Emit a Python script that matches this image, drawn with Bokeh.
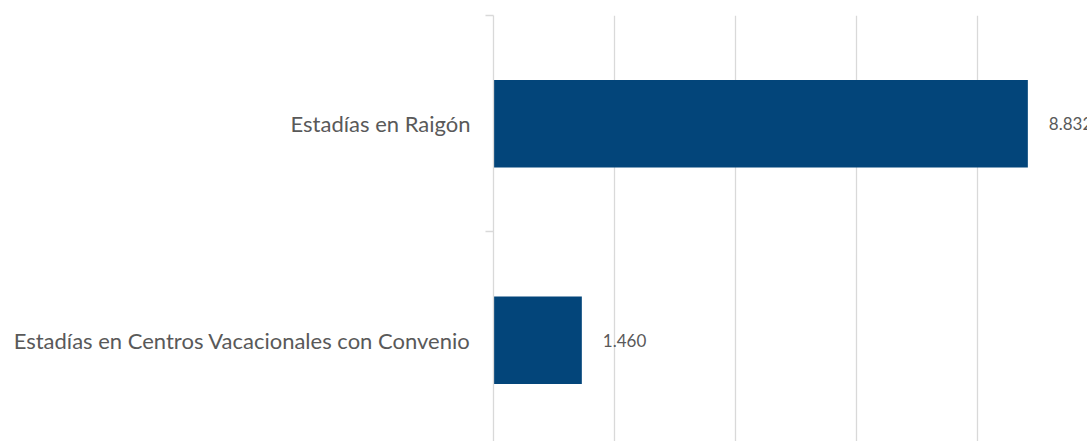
from bokeh.plotting import figure
from bokeh.models import ColumnDataSource, FixedTicker, Range1d
from bokeh.core.properties import value
from bokeh.embed import file_html
from bokeh.resources import INLINE

# Data
categories = ["Estadías en Centros Vacacionales con Convenio", "Estadías en Raigón"]
values = [1460, 8832]
grid_ticks = [0, 2000, 4000, 6000, 8000, 10000]

FONT = "Lato"
BAR_COLOR = "#03457A"
TEXT_COLOR = "#595959"
GRID_COLOR = "#D9D9D9"

ypos = [i + 0.5 for i in range(len(categories))]
labels = [f"{v:,}".replace(",", ".") for v in values]
src = ColumnDataSource(dict(y=ypos, v=values, lab=labels))

p = figure(width=1087, height=441, output_backend="svg", toolbar_location=None,
           x_range=Range1d(0, 9818), y_range=Range1d(0.0323, 2.0),
           x_axis_location=None, min_border_left=493, min_border_right=0,
           min_border_top=15, min_border_bottom=0)
p.outline_line_color = None
p.background_fill_color = "white"
p.border_fill_color = "white"

p.hbar(y="y", right="v", left=0, height=0.405, source=src,
       fill_color=BAR_COLOR, line_color=None)

p.text(x="v", y="y", text="lab", source=src, x_offset=21,
       text_align="left", text_baseline="middle",
       text_font=value(FONT), text_font_size="17px", text_color=TEXT_COLOR)

# grid
p.xgrid.ticker = FixedTicker(ticks=grid_ticks)
p.xgrid.grid_line_color = GRID_COLOR
p.xgrid.grid_line_width = 1.3
p.ygrid.visible = False

# y axis
ya = p.yaxis[0]
ya.ticker = FixedTicker(ticks=ypos, minor_ticks=[0, 1, 2])
ya.major_label_overrides = {y: c for y, c in zip(ypos, categories)}
ya.axis_line_color = GRID_COLOR
ya.axis_line_width = 1.3
ya.major_tick_line_color = None
ya.major_tick_out = 0
ya.major_tick_in = 0
ya.minor_tick_line_color = GRID_COLOR
ya.minor_tick_line_width = 1.3
ya.minor_tick_out = 8
ya.minor_tick_in = 0
ya.major_label_standoff = 15
ya.major_label_text_font = FONT
ya.major_label_text_font_size = "22px"
ya.major_label_text_color = TEXT_COLOR

open("out.html", "w").write(file_html(p, INLINE))
